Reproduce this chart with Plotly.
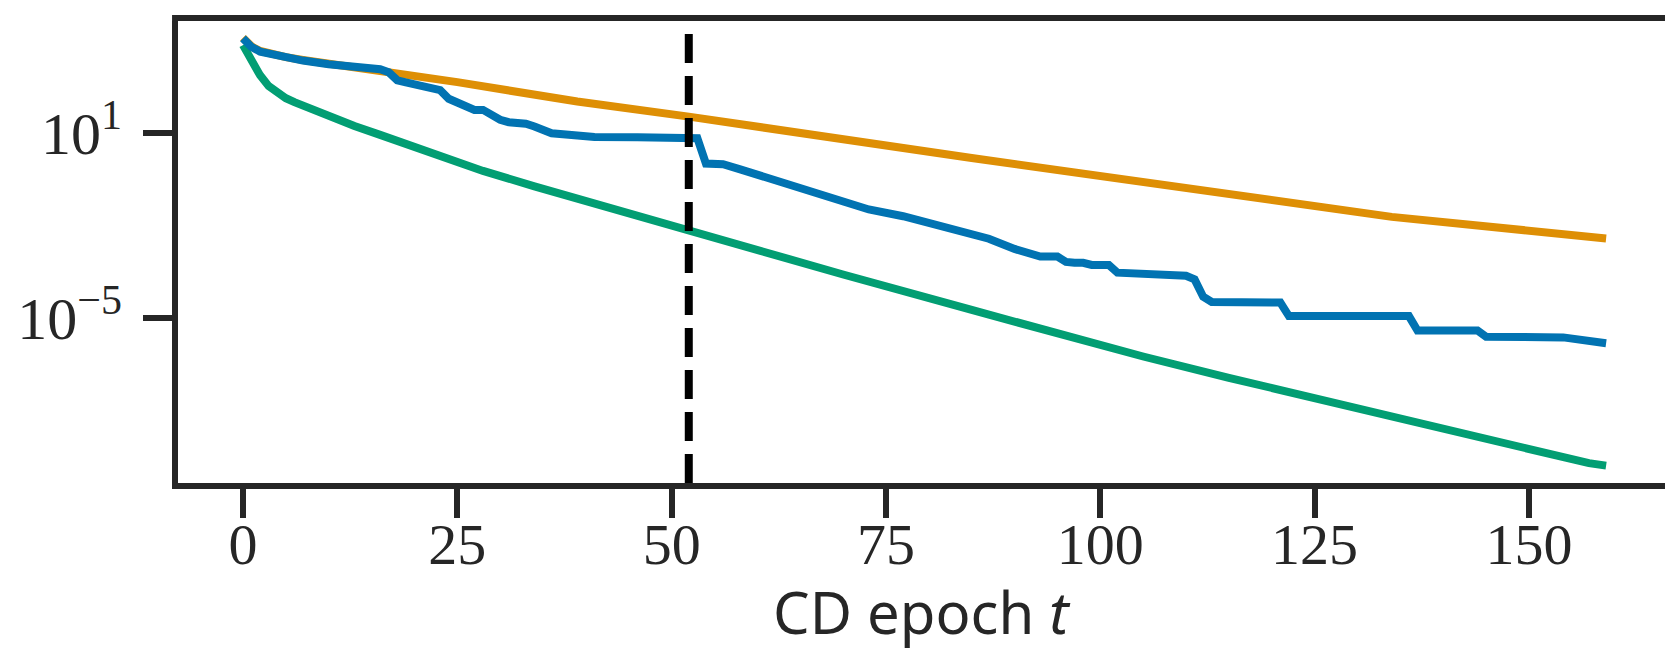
import plotly.graph_objects as go

# Epochs and log10 values (log-scale y axis)
orange_t = [0, 1, 2, 3, 5, 7, 10, 13, 16, 25, 39, 52, 85, 130, 134, 159]
orange_log10 = [4.10, 3.82, 3.67, 3.59, 3.47, 3.38, 3.26, 3.17, 3.06, 2.66, 2.03, 1.54, 0.20, -1.58, -1.71, -2.41]

blue_t = [0, 1, 2, 3, 5, 7, 10, 13, 16, 17, 18, 19, 21, 22, 23, 24, 25, 26, 27, 28, 29, 30, 31, 33, 34, 35, 36, 38, 41, 46, 49, 53,
          54, 56, 58, 61, 65, 69, 73, 77, 81, 84, 87, 90, 92, 93, 95, 96, 97, 98, 99, 101, 102, 105, 106, 110, 111, 112, 113,
          121, 122, 136, 137, 144, 145, 154, 159]
blue_log10 = [4.08, 3.80, 3.65, 3.58, 3.45, 3.36, 3.24, 3.15, 3.08, 2.98, 2.72, 2.65, 2.55, 2.45, 2.40, 2.12, 2.00, 1.82, 1.76, 1.76,
              1.60, 1.44, 1.36, 1.31, 1.22, 1.08, 1.00, 0.95, 0.88, 0.87, 0.84, 0.84,
              0.02, 0.00, -0.17, -0.43, -0.82, -1.14, -1.47, -1.69, -1.96, -2.17, -2.42, -2.75, -2.94, -3.00, -3.00, -3.17,
              -3.20, -3.20, -3.27, -3.27, -3.52, -3.54, -3.60, -3.62, -3.74, -4.30, -4.47,
              -4.49, -4.93, -4.93, -5.40, -5.40, -5.60, -5.62, -5.81]

green_t = [0, 1, 2, 3, 4, 5, 6, 8, 10, 13, 16, 22, 28, 34, 39, 45, 52, 60, 70, 85, 95, 105, 115, 127, 140, 147, 151, 154, 157, 159]
green_log10 = [3.86, 3.38, 2.88, 2.53, 2.31, 2.14, 2.01, 1.78, 1.56, 1.24, 0.95, 0.34, -0.22, -0.72, -1.12, -1.63, -2.20, -2.81, -3.58,
               -4.73, -5.51, -6.24, -6.93, -7.72, -8.63, -9.10, -9.32, -9.53, -9.70, -9.78]

cd_switch_epoch = 52
x_ticks = [0, 25, 50, 75, 100, 125, 150]
y_tickvals = [1e1, 1e-5]
y_ticktext = ["10<sup>1</sup>\u00a0", "10<sup>\u22125</sup>\u00a0"]

C_BLUE = "#0173b2"
C_ORANGE = "#de8f05"
C_GREEN = "#029e73"
INK = "#262626"

fig = go.Figure()
fig.add_trace(go.Scatter(x=orange_t, y=[10 ** v for v in orange_log10], mode="lines",
                         line=dict(color=C_ORANGE, width=8), showlegend=False))
fig.add_trace(go.Scatter(x=green_t, y=[10 ** v for v in green_log10], mode="lines",
                         line=dict(color=C_GREEN, width=8), showlegend=False))
fig.add_trace(go.Scatter(x=blue_t, y=[10 ** v for v in blue_log10], mode="lines",
                         line=dict(color=C_BLUE, width=8), showlegend=False))

y_lo, y_hi = -10.343, 4.643
fig.add_trace(go.Scatter(x=[cd_switch_epoch, cd_switch_epoch], y=[10 ** y_lo, 10 ** 4.25], mode="lines",
                         line=dict(color="black", width=8, dash="29px,13px"), showlegend=False))

fig.add_shape(type="line", xref="paper", yref="paper", x0=-0.004, x1=1, y0=1.0065, y1=1.0065,
              line=dict(color=INK, width=6))

fig.add_annotation(text="CD epoch <i>t</i>", xref="paper", yref="paper", x=0.5, y=-0.279,
                   xanchor="center", yanchor="middle", showarrow=False,
                   font=dict(family="Noto Sans", size=58, color=INK))

fig.update_layout(
    width=1665, height=649,
    margin=dict(l=178, r=0, t=21, b=166),
    paper_bgcolor="white", plot_bgcolor="white",
)
fig.update_xaxes(
    range=[-7.58, 165.87], showgrid=False, zeroline=False, automargin=False,
    showline=True, linecolor=INK, linewidth=6,
    ticks="outside", ticklen=29, tickwidth=6, tickcolor=INK,
    tickvals=x_ticks, ticktext=[str(v) for v in x_ticks],
    tickfont=dict(family="Liberation Serif", size=58, color=INK),
    ticklabelstandoff=-24,
)
fig.update_yaxes(
    type="log", range=[y_lo, y_hi], showgrid=False, zeroline=False, automargin=False,
    showline=True, linecolor=INK, linewidth=6,
    ticks="outside", ticklen=29, tickwidth=6, tickcolor=INK,
    tickvals=y_tickvals, ticktext=y_ticktext,
    tickfont=dict(family="Liberation Serif", size=60, color=INK),
    ticklabelstandoff=-6,
)

fig.write_html("out.html", config={"displayModeBar": False},
               post_script="document.body.style.margin='0';")
